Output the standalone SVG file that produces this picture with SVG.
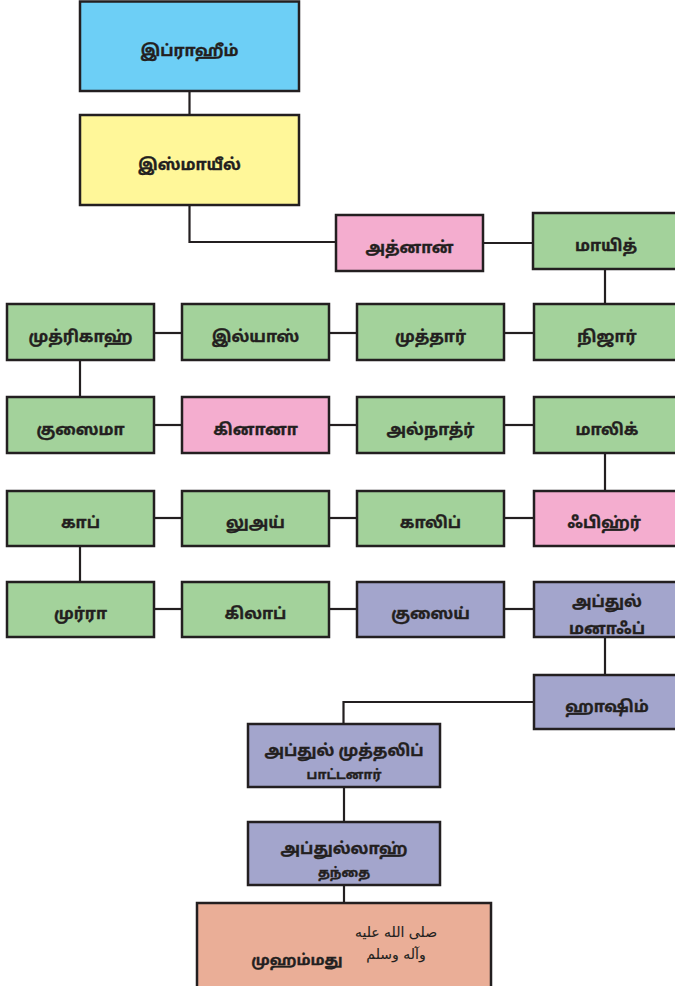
<svg xmlns="http://www.w3.org/2000/svg" width="675" height="986" viewBox="0 0 675 986">
<style>
.b{stroke:#231f20;stroke-width:2.5}
.blue{fill:#6dcff6}.yel{fill:#fff799}.pink{fill:#f4adcf}.grn{fill:#a3d29b}.pur{fill:#a3a5cc}.sal{fill:#eaae97}
text{font-family:"Noto Sans Tamil","Lohit Tamil","Noto Sans","DejaVu Sans",sans-serif;font-weight:bold;fill:#231f20;stroke:#231f20;stroke-width:0.35;text-anchor:middle}
.t{font-size:16px}
.s{font-size:13px}
.ar{font-family:"DejaVu Sans","Noto Sans",sans-serif;font-weight:normal;font-size:14px;stroke-width:0.1}
#conn path{fill:none;stroke:#231f20;stroke-width:2.2}
</style>
<rect width="675" height="986" fill="#ffffff"/>
<g id="conn">
<path d="M189.5 91V115"/>
<path d="M189.5 205V242H337"/>
<path d="M483 243H533"/>
<path d="M605 269V304"/>
<path d="M504 333H534"/>
<path d="M329 333H357"/>
<path d="M154 333H182"/>
<path d="M80 360V397"/>
<path d="M154 425H182"/>
<path d="M329 425H357"/>
<path d="M504 425H534"/>
<path d="M605 453V491"/>
<path d="M504 518H534"/>
<path d="M329 518H357"/>
<path d="M154 518H182"/>
<path d="M80 546V582"/>
<path d="M154 609H182"/>
<path d="M329 609H357"/>
<path d="M504 609H534"/>
<path d="M605 637V675"/>
<path d="M534 702H343.5V724"/>
<path d="M344 787V822"/>
<path d="M344 885V903"/>
</g>
<g id="n1"><rect class="b blue" x="80" y="1.5" width="219" height="89.5"/><text class="t" x="189.5" y="56">இப்ராஹீம்</text></g>
<g id="n2"><rect class="b yel" x="80" y="115" width="219" height="90"/><text class="t" x="189.5" y="170">இஸ்மாயீல்</text></g>
<g id="n3"><rect class="b pink" x="336" y="215" width="147" height="56"/><text class="t" x="409.5" y="253">அத்னான்</text></g>
<g id="n4"><rect class="b grn" x="533" y="213" width="147" height="56"/><text class="t" x="606" y="251">மாயித்</text></g>
<g id="n5"><rect class="b grn" x="534" y="304" width="147" height="56"/><text class="t" x="607" y="342">நிஜார்</text></g>
<g id="n6"><rect class="b grn" x="357" y="304" width="147" height="56"/><text class="t" x="430.5" y="342">முத்தார்</text></g>
<g id="n7"><rect class="b grn" x="182" y="304" width="147" height="56"/><text class="t" x="255.5" y="342">இல்யாஸ்</text></g>
<g id="n8"><rect class="b grn" x="7" y="304" width="147" height="56"/><text class="t" x="80.5" y="342">முத்ரிகாஹ்</text></g>
<g id="n9"><rect class="b grn" x="7" y="397" width="147" height="56"/><text class="t" x="80.5" y="435">குஸைமா</text></g>
<g id="n10"><rect class="b pink" x="182" y="397" width="147" height="56"/><text class="t" x="255.5" y="435">கினானா</text></g>
<g id="n11"><rect class="b grn" x="357" y="397" width="147" height="56"/><text class="t" x="430.5" y="435">அல்நாத்ர்</text></g>
<g id="n12"><rect class="b grn" x="534" y="397" width="147" height="56"/><text class="t" x="607" y="435">மாலிக்</text></g>
<g id="n13"><rect class="b pink" x="534" y="491" width="147" height="55"/><text class="t" x="604" y="528">ஃபிஹ்ர்</text></g>
<g id="n14"><rect class="b grn" x="357" y="491" width="147" height="55"/><text class="t" x="430.5" y="528">காலிப்</text></g>
<g id="n15"><rect class="b grn" x="182" y="491" width="147" height="55"/><text class="t" x="255.5" y="528">லுஅய்</text></g>
<g id="n16"><rect class="b grn" x="7" y="491" width="147" height="55"/><text class="t" x="80.5" y="528">காப்</text></g>
<g id="n17"><rect class="b grn" x="7" y="582" width="147" height="55"/><text class="t" x="80.5" y="619">முர்ரா</text></g>
<g id="n18"><rect class="b grn" x="182" y="582" width="147" height="55"/><text class="t" x="255.5" y="619">கிலாப்</text></g>
<g id="n19"><rect class="b pur" x="357" y="582" width="147" height="55"/><text class="t" x="430.5" y="619">குஸைய்</text></g>
<g id="n20"><rect class="b pur" x="534" y="582" width="147" height="55"/><text class="t" x="607" y="607">அப்துல்</text><text class="t" x="607" y="634">மனாஃப்</text></g>
<g id="n21"><rect class="b pur" x="534" y="675" width="147" height="54"/><text class="t" x="607" y="712">ஹாஷிம்</text></g>
<g id="n22"><rect class="b pur" x="248" y="724" width="192" height="63"/><text class="t" x="344" y="756">அப்துல் முத்தலிப்</text><text class="s" x="344" y="779">பாட்டனார்</text></g>
<g id="n23"><rect class="b pur" x="248" y="822" width="192" height="63"/><text class="t" x="344" y="854">அப்துல்லாஹ்</text><text class="s" x="344" y="877">தந்தை</text></g>
<g id="n24"><rect class="b sal" x="197" y="903" width="294" height="90"/><text class="t" x="297" y="965" style="font-size:15px">முஹம்மது</text><text class="ar" x="396" y="937">صلى الله عليه</text><text class="ar" x="396" y="959">وآله وسلم</text></g>
</svg>
